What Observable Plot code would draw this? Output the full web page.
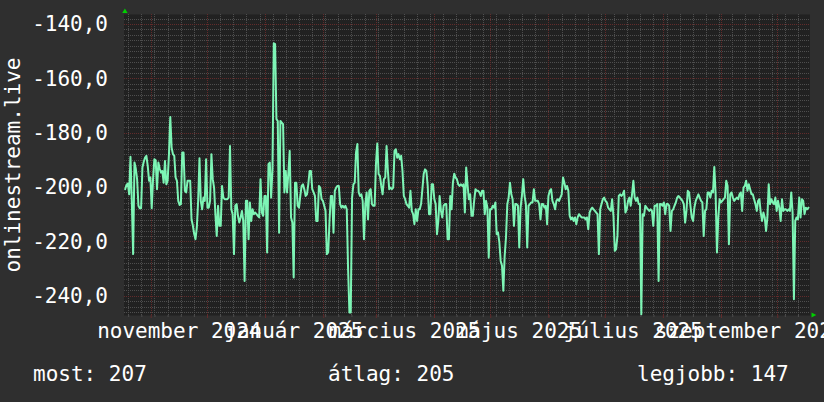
<!DOCTYPE html>
<html><head><meta charset="utf-8">
<script src="https://cdn.jsdelivr.net/npm/d3@7"></script>
<script src="https://cdn.jsdelivr.net/npm/@observablehq/plot@0.6"></script>
<style>
html,body{margin:0;padding:0;background:#2f2f2f;overflow:hidden}
#wrap{position:relative;width:824px;height:402px;background:#2f2f2f;overflow:hidden;font-family:"DejaVu Sans Mono",monospace;color:#fff}
#chart svg{display:block;max-width:none}
.leg{position:absolute;font-size:21px;line-height:21px;white-space:pre;top:364px}
</style></head><body>
<div id="wrap"><div id="chart"></div></div>
<script>
// ---- data ----
const yAxisTitle = "onlinestream.live";
const seriesStart = "2024-10-18T03:00:00Z";
const seriesEnd   = "2025-10-17T09:00:00Z";
const segOctDec = [-200.6,-199.0,-198.5,-202.5,-188.7,-205.0,-224.5,-190.8,-193.0,-197.0,-206.7,-207.6,-207.6,-192.6,-190.5,-189.0,-188.3,-192.0,-197.5,-196.3,-207.6,-196.9,-189.6,-190.0,-200.6,-190.8,-193.0,-194.5,-193.9,-198.2,-190.2,-198.8,-197.5,-187.7,-174.0,-185.3,-187.7,-188.3,-196.3,-197.5,-204.9,-206.4,-206.1,-187.1,-187.1,-201.2,-201.8,-197.5,-197.5,-197.5,-211.7,-214.0,-217.0,-219.0,-214.7,-204.9,-189.2,-204.9,-208.0,-203.7,-204.9,-189.6,-207.4,-207.4,-204.9,-187.7,-196.9,-200.0,-209.8,-217.8,-206.7,-214.1,-214.1,-199.4,-203.7,-204.3,-204.3,-204.3,-203.7,-184.7,-208.0,-209.8,-224.5,-206.7];
const segDecFeb = [-206.1,-210.4,-212.9,-211.0,-208.6,-212.3,-234.4,-204.9,-204.9,-219.0,-205.5,-212.3,-208.0,-209.8,-209.2,-209.8,-210.4,-211.0,-196.9,-209.2,-210.4,-203.1,-203.1,-223.9,-191.4,-190.8,-203.7,-193.3,-146.9,-147.2,-174.8,-175.5,-216.6,-175.5,-176.1,-176.7,-201.8,-193.9,-201.8,-194.5,-186.5,-211.0,-212.9,-233.1,-198.2,-198.2,-206.7,-207.4,-203.0,-199.4,-198.8,-200.6,-203.1,-202.5,-198.8,-193.9,-193.9,-200.6,-201.8,-203.1,-212.3,-212.3,-199.4,-200.0,-204.3,-204.9,-206.7,-208.6,-224.5,-223.9,-212.3,-203.1,-203.1,-216.6,-201.2,-200.0,-199.4,-199.4,-206.1,-207.4,-206.7,-207.4,-206.7,-208.0,-230.0,-246.0];
const segFebApr = [-246.0,-203.7,-198.8,-198.2,-187.1,-184.0,-201.8,-203.1,-202.5,-204.9,-219.0,-206.1,-201.8,-211.7,-201.2,-200.6,-206.1,-206.7,-206.7,-191.4,-183.8,-195.1,-195.7,-199.4,-202.5,-196.9,-196.3,-184.7,-193.9,-200.6,-200.0,-200.6,-200.0,-186.5,-185.9,-189.0,-187.7,-189.6,-188.3,-193.9,-203.1,-204.3,-206.1,-206.7,-207.4,-201.2,-208.6,-209.8,-213.5,-208.0,-212.3,-208.0,-208.0,-206.1,-200.6,-194.9,-193.3,-193.9,-199.4,-209.8,-209.8,-198.8,-198.8,-204.3,-206.1,-217.2,-212.3,-203.1,-208.6,-211.0,-206.7,-206.1,-206.1,-219.0,-219.0,-203.1,-208.0,-198.2,-194.9,-196.3,-196.9,-198.8,-199.4,-198.8,-199.4,-198.8];
const segAprJun = [-209.2,-192.6,-198.8,-204.3,-202.5,-210.4,-210.4,-204.9,-200.6,-201.2,-201.2,-201.8,-203.1,-201.2,-201.2,-209.8,-204.9,-207.4,-225.8,-208.0,-208.0,-206.7,-207.4,-205.5,-217.2,-216.6,-220.2,-227.0,-228.8,-238.0,-225.2,-218.4,-206.1,-203.7,-198.2,-202.5,-204.3,-214.1,-206.1,-206.1,-206.7,-222.1,-207.4,-203.1,-196.9,-203.1,-206.1,-222.1,-206.7,-206.1,-205.5,-205.5,-200.6,-204.9,-204.9,-204.9,-206.1,-211.7,-206.1,-206.1,-207.4,-206.7,-213.5,-203.1,-201.2,-200.6,-204.9,-206.1,-208.0,-204.9,-204.3,-204.9,-203.7,-202.5,-196.3,-198.2,-200.6,-199.4,-201.2,-210.4,-211.7,-211.0,-212.3,-211.0,-213.5,-211.0];
const segJunAug = [-209.8,-210.4,-211.0,-211.0,-211.0,-211.7,-211.0,-215.3,-209.2,-208.0,-207.4,-208.0,-208.6,-209.2,-209.8,-224.5,-208.0,-206.1,-204.3,-203.7,-204.9,-205.5,-207.4,-208.0,-208.6,-204.3,-210.4,-223.3,-222.7,-217.8,-203.1,-202.5,-203.1,-202.5,-201.2,-209.2,-208.0,-204.9,-203.7,-206.7,-202.5,-197.5,-203.7,-204.9,-203.7,-206.1,-206.1,-246.6,-209.8,-210.4,-206.7,-207.4,-208.0,-208.6,-208.0,-208.6,-214.1,-206.7,-206.7,-206.1,-234.4,-206.1,-206.1,-206.7,-205.5,-209.8,-206.1,-206.1,-206.7,-216.0,-208.6,-208.0,-206.7,-205.5,-203.7,-203.1,-203.7,-204.3,-204.9,-206.1,-212.9,-208.6,-201.2,-201.8,-206.7,-211.0];
const segAugOct = [-212.3,-207.4,-204.9,-203.7,-202.5,-203.7,-204.9,-205.5,-217.8,-208.6,-208.0,-201.8,-201.8,-203.7,-201.2,-201.8,-192.4,-202.5,-223.9,-211.0,-204.3,-205.5,-204.9,-204.3,-203.7,-197.5,-199.4,-220.9,-202.5,-201.8,-203.7,-204.9,-204.3,-203.7,-204.3,-202.5,-201.8,-208.6,-200.0,-199.4,-197.5,-201.2,-198.8,-200.6,-202.5,-202.5,-204.3,-206.1,-208.6,-204.9,-204.3,-209.2,-212.3,-209.2,-211.0,-216.0,-211.0,-198.8,-206.1,-204.3,-205.5,-206.1,-203.7,-208.6,-204.9,-207.4,-212.3,-204.3,-208.6,-208.0,-208.0,-208.6,-208.0,-208.6,-201.8,-209.2,-241.1,-212.3,-211.0,-211.7,-203.7,-211.0,-204.3,-204.9,-209.8,-207.4,-208.0,-207.4];
const yTicks = [-240, -220, -200, -180, -160, -140];
const monthLabelDates = ["2024-11-16","2025-01-16","2025-03-16","2025-05-16","2025-07-16","2025-09-16"];
const monthLabels = ["november 2024","január 2025","március 2025","május 2025","július 2025","szeptember 2025"];
const legendItems = ["most: 207", "átlag: 205", "legjobb: 147"];
const xDomainDates = ["2024-10-17T12:00:00Z", "2025-10-18T04:00:00Z"];
const yDomain = [-247.1, -136.3];

// ---- build ----
const values = [].concat(segOctDec, segDecFeb, segFebApr, segAprJun, segJunAug, segAugOct);
const t0 = +new Date(seriesStart), t1 = +new Date(seriesEnd);
const series = values.map((v, i) => ({date: new Date(t0 + (t1 - t0) * i / (values.length - 1)), value: v}));
const xDomain = xDomainDates.map(d => new Date(d));
const monthLines = d3.utcMonth.range(xDomain[0], xDomain[1]);
const weekLines = d3.utcSunday.range(xDomain[0], xDomain[1]);
const yMinor = d3.range(yTicks[0] - 6, yTicks[yTicks.length - 1] + 4, 2).filter(v => Math.abs(v % 20) !== 0);
const labelDates = monthLabelDates.map(d => new Date(d + "T00:00:00Z"));
const labelMap = new Map(labelDates.map((d, i) => [+d, monthLabels[i]]));

const minorColor = "#4e4e4e", majorColor = "#622b2b";
const arrows = (index, scales, values, dims) => {
  const g = d3.create("svg:g");
  const L = dims.marginLeft, T = dims.marginTop;
  const R = dims.width - dims.marginRight, B = dims.height - dims.marginBottom;
  g.append("path").attr("d", `M${L-1.3},${T-1}L${L+4.1},${T-1}L${L+1.4},${T-5.5}Z`).attr("fill", "#00d000");
  g.append("path").attr("d", `M${R+2},${B-2.6}L${R+2},${B+2.6}L${R+6.8},${B}Z`).attr("fill", "#00d000");
  return g.node();
};
const grid = {strokeDasharray: "1,1", shapeRendering: "crispEdges"};

const chart = Plot.plot({
  width: 824, height: 345,
  marginLeft: 123.5, marginRight: 14.5, marginTop: 14, marginBottom: 30,
  style: {background: "transparent", color: "#fff", fontFamily: "'DejaVu Sans Mono', monospace", fontSize: "21px", overflow: "visible"},
  x: {type: "utc", domain: xDomain, label: null},
  y: {domain: yDomain, label: null},
  marks: [
    Plot.frame({fill: "#212121", stroke: "none"}),
    Plot.ruleY(yMinor, {stroke: minorColor, ...grid}),
    Plot.ruleX(weekLines, {stroke: minorColor, ...grid}),
    Plot.ruleY(yTicks, {stroke: majorColor, ...grid}),
    Plot.ruleX(monthLines, {stroke: majorColor, ...grid}),
    Plot.axisX(weekLines, {tickSize: 2, fill: "none", stroke: minorColor}),
    Plot.axisX(monthLines, {tickSize: 3, fill: "none", stroke: majorColor}),
    Plot.line(series, {x: "date", y: "value", stroke: "#7df5b5", strokeWidth: 2}),
    Plot.axisY(yTicks, {tickSize: 0, tickPadding: 16, fontSize: 21, tickFormat: d => d.toFixed(1).replace(".", ",")}),
    Plot.axisX(labelDates, {tickSize: 0, tickPadding: 8, fontSize: 21, tickFormat: d => labelMap.get(+d)}),
    Plot.text([yAxisTitle], {frameAnchor: "left", rotate: -90, dx: -111, textAnchor: "middle", lineAnchor: "middle", fontSize: 21, fill: "#fff"}),
    arrows
  ]
});
const wrap = document.getElementById("wrap");
document.getElementById("chart").appendChild(chart);
const legendLeft = [33, 328, 637];
legendItems.forEach((t, i) => {
  const s = document.createElement("span");
  s.className = "leg"; s.style.left = legendLeft[i] + "px"; s.textContent = t;
  wrap.appendChild(s);
});
</script>
</body></html>
